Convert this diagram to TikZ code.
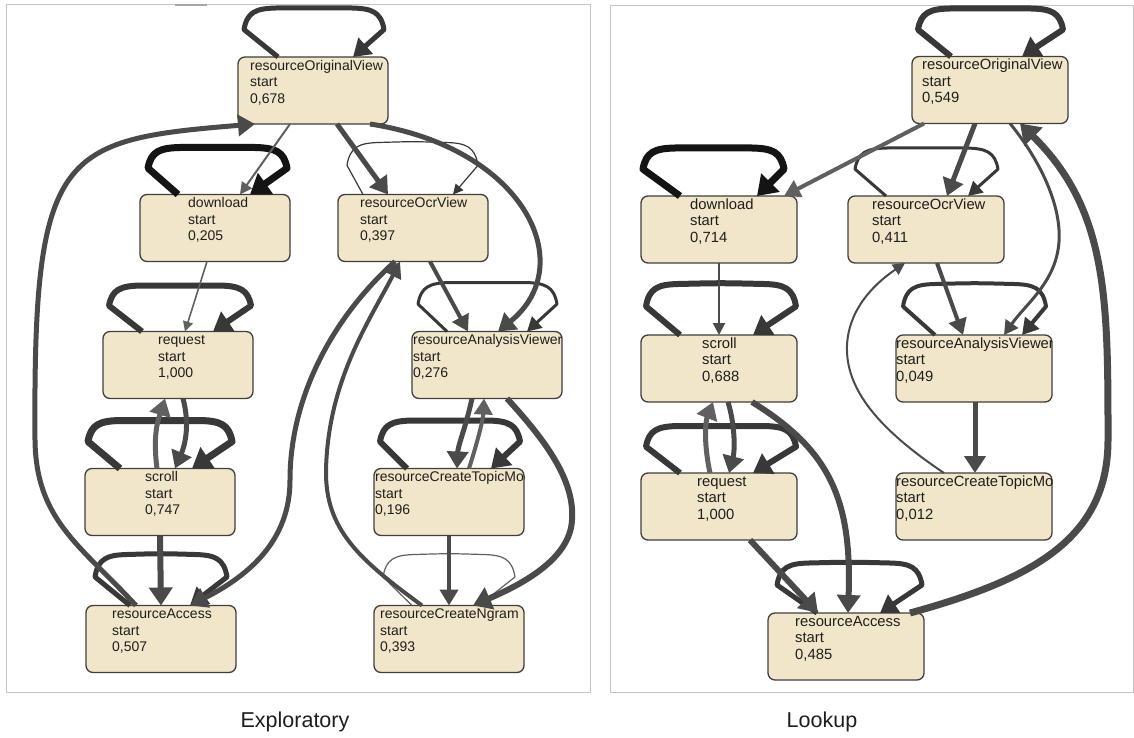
\documentclass[tikz,border=0pt]{standalone}
\usepackage{fontspec}
\setmainfont{Liberation Sans}
\usetikzlibrary{arrows.meta,calc}

\definecolor{boxfill}{HTML}{F1E6C9}
\definecolor{boxline}{HTML}{3F3F3F}
\definecolor{edgec}{HTML}{4A4A4A}
\definecolor{edgelight}{HTML}{606060}
\definecolor{loopc}{HTML}{383838}
\definecolor{blackc}{HTML}{141414}
\definecolor{framec}{HTML}{C4C4C4}
\definecolor{txt}{HTML}{1E1E1E}

\tikzset{
  stbox/.style={draw=boxline, fill=boxfill, rounded corners=7pt, line width=1.3pt,
    minimum height=67pt, inner sep=0pt, outer sep=0pt},
  sttext/.style={anchor=north west, inner sep=0pt, align=left, text=txt},
  w1/.style={draw=edgec, line width=1.2pt, -{Triangle[length=10pt,width=10pt]}},
  w2/.style={draw=edgec, line width=2pt, -{Triangle[length=12pt,width=12pt]}},
  w3/.style={draw=edgec, line width=3pt, -{Triangle[length=14pt,width=15pt]}},
  w4/.style={draw=edgec, line width=4pt, -{Triangle[length=16pt,width=18pt]}},
  w5/.style={draw=edgec, line width=5pt, -{Triangle[length=17pt,width=21pt]}},
  w6/.style={draw=edgec, line width=6pt, -{Triangle[length=18pt,width=23pt]}},
  w7/.style={draw=edgec, line width=7pt, -{Triangle[length=19pt,width=25pt]}},
  caption/.style={font=\fontsize{21.5pt}{26pt}\selectfont, text=txt},
}

% a state: box, then its three text lines clipped to the box
% #1 name, #2 #3 centre, #4 width, #5 text indent, #6 activity, #7 value, #8 font size
\newcommand\statebox[8]{%
  \node[stbox, minimum width=#4pt] (#1) at (#2,#3) {};
  \begin{scope}
    \clip[rounded corners=7pt] (#1.south west) rectangle (#1.north east);
    \node[sttext, font=\fontsize{#8pt}{16.5pt}\selectfont] (#1t)
      at ([xshift=#5pt, yshift=-2.5pt]#1.north west)
      {\vrule width0pt height10.5pt#6\\start\\#7};
  \end{scope}}

% a self loop on top of a state: bracket shape with rounded shoulders
% #1 style, #2 node, #3 start dx, #4 tip dx, #5 left corner dx, #6 right corner dx, #7 height
\newcommand\sloop[7]{%
  \draw[#1] ([xshift=#3pt]#2.north)
    -- ($(#2.north)+(#5,-0.56*#7)$)
    .. controls ($(#2.north)+(#5+3,-0.92*#7)$) and ($(#2.north)+(#5+12,-0.99*#7)$)
    .. ($(#2.north)+(#5+32,-#7)$)
    .. controls ($(#2.north)+(0.5*#5+0.5*#6,-1.02*#7)$) .. ($(#2.north)+(#6-32,-#7)$)
    .. controls ($(#2.north)+(#6-12,-0.99*#7)$) and ($(#2.north)+(#6-3,-0.92*#7)$)
    .. ($(#2.north)+(#6,-0.56*#7)$)
    -- ([xshift=#4pt]#2.north);}

\begin{document}
\begin{tikzpicture}[x=1pt, y=-1pt, line join=round]
\useasboundingbox (0,0) rectangle (1134,738);
\fill[white] (0,0) rectangle (1134,738);

% panel frames
\draw[framec, line width=1pt] (6,5) rectangle (590,692);
\draw[framec, line width=1pt] (610,6) rectangle (1133.5,692);
\draw[gray!70, line width=1.2pt] (175,5) -- (207,5);

% ---------- Exploratory ----------
\statebox{lROV}{313}{90.5}{150}{12}{resourceOriginalView}{0,678}{14}
\statebox{lDL}{215}{228}{150}{48}{download}{0,205}{14}
\statebox{lOCR}{413}{228}{150}{22}{resourceOcrView}{0,397}{14}
\statebox{lREQ}{178}{365}{150}{55}{request}{1,000}{14}
\statebox{lRAV}{487}{365}{150}{1}{resourceAnalysisViewer}{0,276}{14}
\statebox{lSCR}{160}{502}{150}{60}{scroll}{0,747}{14}
\statebox{lTOP}{449}{502}{150}{1}{resourceCreateTopicMod}{0,196}{14}
\statebox{lRA}{161}{639}{150}{26}{resourceAccess}{0,507}{14}
\statebox{lNG}{449}{639}{150}{6}{resourceCreateNgram}{0,393}{14}

\sloop{w5,draw=loopc}{lROV}{-35}{40}{-69}{71}{49}
\sloop{w7,draw=blackc}{lDL}{-37}{35}{-67}{72}{47}
\sloop{w1,draw=loopc}{lOCR}{-50}{40}{-66}{65}{52}
\sloop{w3,draw=loopc}{lRAV}{-40}{40}{-69}{70}{49}
\sloop{w6,draw=loopc}{lREQ}{-36}{35}{-69}{73}{46}
\sloop{w7,draw=loopc}{lSCR}{-40}{32}{-72}{72}{48}
\sloop{w6,draw=loopc}{lTOP}{-42}{42}{-69}{71}{48}
\sloop{w5,draw=loopc}{lRA}{-31}{29}{-66}{66}{51}
\sloop{w1,draw=edgelight}{lNG}{-37}{30}{-66}{66}{51}

\draw[w2, draw=edgelight] ([xshift=-23pt]lROV.south) -- ([xshift=25pt]lDL.north);
\draw[w5] ([xshift=24pt]lROV.south) -- ([xshift=-25pt]lOCR.north);
\draw[w5] ([xshift=57pt]lROV.south) .. controls (525,148) and (580,265) .. ([xshift=11pt]lRAV.north);
\draw[w4] ([xshift=17pt]lOCR.south) -- ([xshift=-19pt]lRAV.north);
\draw[w1, line width=1.6pt, draw=edgelight] ([xshift=-8pt]lDL.south) -- ([xshift=7pt]lREQ.north);
\draw[w5, draw=edgelight] ([xshift=-3pt]lSCR.north) .. controls (152,430) and (160,415) .. ([xshift=-13pt]lREQ.south);
\draw[w5] ([xshift=5pt]lREQ.south) .. controls (190,425) and (185,445) .. ([xshift=15pt]lSCR.north);
\draw[w6] (lSCR.south) -- (lRA.north);
\draw[w5] ([xshift=-25pt]lRA.north) .. controls (80,545) and (36,520) .. (35,440)
  .. controls (33,150) and (60,140) .. ([xshift=-58pt]lROV.south);
\draw[w5] ([xshift=-18pt]lOCR.south) .. controls (330,320) and (290,400) .. (290,480)
  .. controls (290,540) and (250,575) .. ([xshift=29pt]lRA.north);
\draw[w4] ([xshift=-27pt]lNG.north) .. controls (360,560) and (325,530) .. (326,470)
  .. controls (328,380) and (370,320) .. ([xshift=-13pt]lOCR.south);
\draw[w5] ([xshift=-15pt]lRAV.south) .. controls (465,430) and (458,445) .. ([xshift=8pt]lTOP.north);
\draw[w4, draw=edgelight] ([xshift=20pt]lTOP.north) .. controls (478,440) and (483,420) .. ([xshift=-3pt]lRAV.south);
\draw[w4] (lTOP.south) -- (lNG.north);
\draw[w6] ([xshift=20pt]lRAV.south) .. controls (545,440) and (575,480) .. (572,520)
  .. controls (570,560) and (520,585) .. ([xshift=24pt]lNG.north);

% ---------- Lookup ----------
\statebox{rROV}{990}{90}{156}{10}{resourceOriginalView}{0,549}{14.8}
\statebox{rDL}{719}{229.5}{156}{49}{download}{0,714}{14.8}
\statebox{rOCR}{926}{229.5}{156}{24}{resourceOcrView}{0,411}{14.8}
\statebox{rSCR}{719}{368.5}{156}{61}{scroll}{0,688}{14.8}
\statebox{rRAV}{974}{368.5}{156}{0}{resourceAnalysisViewer}{0,049}{14.8}
\statebox{rREQ}{719}{506.5}{156}{56}{request}{1,000}{14.8}
\statebox{rTOP}{974}{506.5}{156}{0}{resourceCreateTopicMod}{0,012}{14.8}
\statebox{rRA}{846}{646.5}{156}{27}{resourceAccess}{0,485}{14.8}

\sloop{w6,draw=loopc}{rROV}{-39}{32}{-72}{73}{48}
\sloop{w7,draw=blackc}{rDL}{-39}{38}{-76}{65}{48}
\sloop{w3,draw=loopc}{rOCR}{-40}{42}{-71}{72}{48}
\sloop{w4,draw=loopc}{rRAV}{-39}{48}{-71}{72}{51}
\sloop{w6,draw=loopc}{rSCR}{-39}{34}{-73}{77}{51}
\sloop{w6,draw=loopc}{rREQ}{-39}{34}{-73}{77}{47}
\sloop{w5,draw=loopc}{rRA}{-29}{34}{-69}{76}{50}

\draw[w4, draw=edgelight] ([xshift=-66pt]rROV.south) -- ([xshift=65pt]rDL.north);
\draw[w5] ([xshift=-15pt]rROV.south) -- ([xshift=21pt]rOCR.north);
\draw[w3] ([xshift=20pt]rROV.south) .. controls (1040,160) and (1065,210) .. (1058,250)
  .. controls (1052,285) and (1025,305) .. ([xshift=30pt]rRAV.north);
\draw[w7] ([xshift=64pt]rRA.north) .. controls (1030,580) and (1108,540) .. (1108,440)
  .. controls (1108,300) and (1108,210) .. ([xshift=30pt]rROV.south);
\draw[w4] ([xshift=11pt]rOCR.south) -- ([xshift=-11pt]rRAV.north);
\draw[w5] ([xshift=1pt]rRAV.south) -- ([xshift=1pt]rTOP.north);
\draw[w2] ([xshift=-30pt]rTOP.north) .. controls (880,430) and (845,390) .. (847,345)
  .. controls (849,305) and (880,280) .. ([xshift=-21pt]rOCR.south);
\draw[w2] (rDL.south) -- (rSCR.north);
\draw[w5, draw=edgelight] ([xshift=-9pt]rREQ.north) .. controls (703,440) and (706,420) .. ([xshift=-6pt]rSCR.south);
\draw[w5] ([xshift=9pt]rSCR.south) .. controls (735,425) and (735,450) .. ([xshift=10pt]rREQ.north);
\draw[w6] ([xshift=31pt]rREQ.south) -- ([xshift=-28pt]rRA.north);
\draw[w6] ([xshift=33pt]rSCR.south) .. controls (830,450) and (852,500) .. ([xshift=2pt]rRA.north);

% captions
\node[caption] (capL) at (295,722) {Exploratory};
\node[caption] (capR) at (822,722) {Lookup};
\end{tikzpicture}
\end{document}
